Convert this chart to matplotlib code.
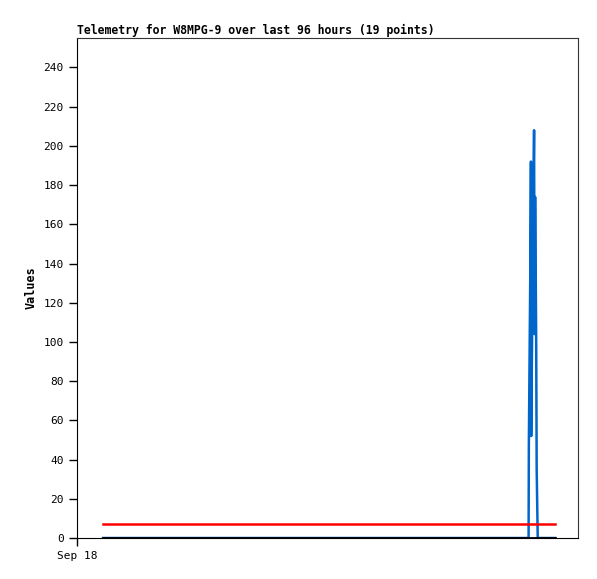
import numpy as np
import matplotlib.pyplot as plt

# hours since Sep 18 00:00
hours = [5.0, 30.0, 60.0, 80.0, 86.0, 86.55, 86.6, 86.9, 87.0, 87.05,
         87.4, 87.6, 87.7, 87.8, 88.0, 88.1, 88.3, 90.0, 91.6]
blue_vals = [0, 0, 0, 0, 0, 0, 48, 144, 192, 52,
             156, 208, 104, 174, 104, 35, 0, 0, 0]
red_vals = [7] * 19
black_vals = [0] * 19

fig = plt.figure(figsize=(5.97, 5.79), dpi=100)
ax = fig.add_axes([0.129, 0.0708, 0.839, 0.8635])

mono = 'DejaVu Sans Mono'

ax.plot(hours, blue_vals, color='#0066cc', lw=1.8, zorder=2)
ax.plot(hours, red_vals, color='#ff0000', lw=1.8, zorder=3)
ax.plot(hours, black_vals, color='black', lw=2.0, zorder=4)

ax.set_xlim(0, 96)
ax.set_ylim(0, 255)
ax.set_yticks(np.arange(0, 241, 20))
ax.set_xticks([0])
ax.set_xticklabels(['Sep 18'])
ax.tick_params(direction='out', length=6, width=1, labelsize=8)
for lab in ax.get_xticklabels() + ax.get_yticklabels():
    lab.set_family(mono)

ax.set_ylabel('Values', family=mono, fontsize=8.5, fontweight='bold')
ax.set_title('Telemetry for W8MPG-9 over last 96 hours (19 points)',
             family=mono, fontsize=8.3, fontweight='bold', loc='left', pad=3)

for s in ax.spines.values():
    s.set_color('#333333')
ax.spines['left'].set_color('black')
ax.spines['bottom'].set_color('black')

plt.savefig('out.png', dpi=100)
